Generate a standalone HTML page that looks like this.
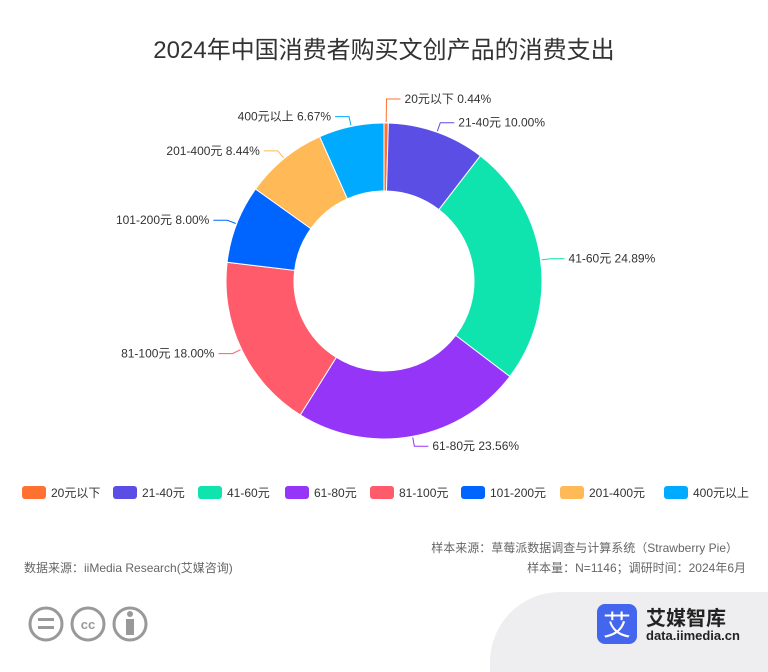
<!DOCTYPE html>
<html><head><meta charset="utf-8">
<style>
body{margin:0;width:768px;height:658px;background:#fff;font-family:"Liberation Sans","Noto Sans CJK SC",sans-serif;overflow:hidden;position:relative}
.t{position:absolute;white-space:nowrap}
</style></head><body>
<div class="t" style="left:0;width:768px;text-align:center;top:30px;font-size:24px;color:#333">2024年中国消费者购买文创产品的消费支出</div>
<svg id="chart" width="768" height="520" style="position:absolute;left:0;top:0"></svg>
<div class="t" style="right:30px;top:539px;font-size:12px;color:#666">样本来源：草莓派数据调查与计算系统（Strawberry Pie）</div>
<div class="t" style="left:24px;top:559px;font-size:12px;color:#666">数据来源：iiMedia Research(艾媒咨询)</div>
<div class="t" style="right:22px;top:559px;font-size:12px;color:#666">样本量：N=1146；调研时间：2024年6月</div>
<svg width="140" height="44" style="position:absolute;left:28px;top:604px">
<g fill="none" stroke="#999" stroke-width="3"><circle cx="18" cy="20" r="16"/><circle cx="60" cy="20" r="16"/><circle cx="102" cy="20" r="16"/></g>
<g fill="#999"><rect x="10" y="14" width="16" height="3"/><rect x="10" y="22" width="16" height="3"/><text x="60" y="25" font-size="13" font-weight="bold" text-anchor="middle" font-family="Liberation Sans">cc</text><circle cx="102" cy="10" r="3"/><rect x="98" y="15" width="8" height="16"/></g>
</svg>
<div style="position:absolute;left:490px;top:592px;width:300px;height:80px;background:#eeeef0;border-radius:70px 0 0 0"></div>
<div style="position:absolute;left:597px;top:604px;width:40px;height:40px;background:#4466ee;border-radius:8px;color:#fff;font-size:28px;text-align:center;line-height:40px;font-family:'Noto Sans CJK SC',sans-serif">艾</div>
<div class="t" style="left:646px;top:602px;font-size:20px;font-weight:bold;color:#222">艾媒智库</div>
<div class="t" style="left:646px;top:628px;font-size:13px;font-weight:bold;color:#222">data.iimedia.cn</div>
<script>
const categories=["20元以下","21-40元","41-60元","61-80元","81-100元","101-200元","201-400元","400元以上"];
const values=[0.44,10.00,24.89,23.56,18.00,8.00,8.44,6.67];
const colors=["#ff7130","#5b4ee5","#0fe3ae","#9535f8","#ff5b6a","#0065ff","#ffb956","#00abff"];
const svg=document.getElementById('chart');
const NS="http://www.w3.org/2000/svg";
const cx=384,cy=281,R=158,r=90;
const total=values.reduce((a,b)=>a+b,0);
function pt(a,rad){return [cx+rad*Math.sin(a),cy-rad*Math.cos(a)];}
let acc=0;
values.forEach((v,i)=>{
 const a0=acc/total*2*Math.PI; acc+=v; const a1=acc/total*2*Math.PI;
 const lg=(a1-a0)>Math.PI?1:0;
 const [x0,y0]=pt(a0,R),[x1,y1]=pt(a1,R),[x2,y2]=pt(a1,r),[x3,y3]=pt(a0,r);
 const p=document.createElementNS(NS,'path');
 p.setAttribute('d',`M${x0},${y0}A${R},${R} 0 ${lg} 1 ${x1},${y1}L${x2},${y2}A${r},${r} 0 ${lg} 0 ${x3},${y3}Z`);
 p.setAttribute('fill',colors[i]);p.setAttribute('stroke','#fff');p.setAttribute('stroke-width','1');
 
 
 svg.appendChild(p);
 const am=(a0+a1)/2;
 const ext=(i===0)?24:10;
 const [lx0,ly0]=pt(am,R+1),[lx1,ly1]=pt(am,R+ext);
 const right=Math.sin(am)>=0;
 const lx2=lx1+(right?14:-14);
 const l=document.createElementNS(NS,'polyline');
 l.setAttribute('points',`${lx0},${ly0} ${lx1},${ly1} ${lx2},${ly1}`);
 l.setAttribute('fill','none');l.setAttribute('stroke',colors[i]);
 
 
 svg.appendChild(l);
 const t=document.createElementNS(NS,'text');
 t.setAttribute('x',lx2+(right?4:-4));t.setAttribute('y',ly1+4);
 t.setAttribute('text-anchor',right?'start':'end');t.setAttribute('font-size','12');t.setAttribute('fill','#333');
 t.textContent=categories[i]+' '+v.toFixed(2)+'%';
 
 
 svg.appendChild(t);
});
const legX=[22,113,198,285,370,461,560,664];
categories.forEach((c,i)=>{
 const g=document.createElementNS(NS,'g');
 
 
 const rc=document.createElementNS(NS,'rect');
 rc.setAttribute('x',legX[i]);rc.setAttribute('y',486);rc.setAttribute('width',24);rc.setAttribute('height',13);rc.setAttribute('rx',3);rc.setAttribute('fill',colors[i]);
 g.appendChild(rc);
 const t=document.createElementNS(NS,'text');
 t.setAttribute('x',legX[i]+29);t.setAttribute('y',497);t.setAttribute('font-size','12');t.setAttribute('fill','#333');
 t.textContent=c;g.appendChild(t);
 svg.appendChild(g);
});
</script>
</body></html>
